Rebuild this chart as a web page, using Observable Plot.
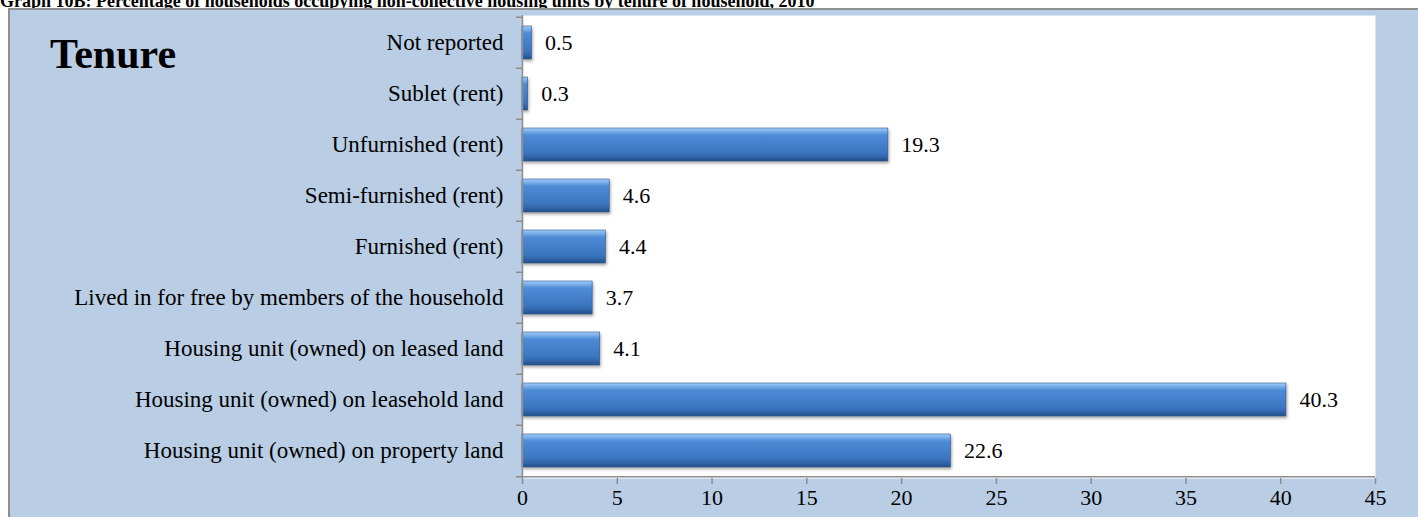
<!DOCTYPE html>
<html><head><meta charset="utf-8">
<script src="https://cdn.jsdelivr.net/npm/d3@7"></script>
<script src="https://cdn.jsdelivr.net/npm/@observablehq/plot@0.6"></script>
<style>
body{margin:0;background:#fff;width:1418px;height:517px;overflow:hidden;position:relative;font-family:"Liberation Serif","Times New Roman",serif;}
#title{position:absolute;left:0;top:-8px;font-weight:bold;font-size:18px;line-height:18px;white-space:nowrap;color:#000;}
#frame{position:absolute;left:8px;top:8px;width:1410px;height:509px;border-left:2px solid #8e8e8e;border-top:2px solid #8e8e8e;background:#B9CDE4;box-sizing:border-box;overflow:hidden;}
#tenure{position:absolute;left:50px;top:33px;font-weight:bold;font-size:42px;line-height:42px;color:#000;}
#frame svg, #frame svg text{font-family:"Liberation Serif","Times New Roman",serif !important;}
</style>
</head><body>
<div id="title">Graph 10B: Percentage of households occupying non-collective housing units by tenure of household, 2010</div>
<div id="frame"></div>
<div id="tenure">Tenure</div>
<script>
const categories = ["Not reported","Sublet (rent)","Unfurnished (rent)","Semi-furnished (rent)","Furnished (rent)","Lived in for free by members of the household","Housing unit (owned) on leased land","Housing unit (owned) on leasehold land","Housing unit (owned) on property land"];
const values = [0.5, 0.3, 19.3, 4.6, 4.4, 3.7, 4.1, 40.3, 22.6];
const xTicks = [0, 5, 10, 15, 20, 25, 30, 35, 40, 45];

const data = categories.map((c, i) => ({cat: c, value: values[i]}));
const W = 1408, H = 507, mT = 5, mB = 39, mL = 512, mR = 43;
const step = (H - mT - mB) / categories.length;
const gray = "#8c8c8c";
const fmt = d3.format(".1f");

const chart = Plot.plot({
  width: W, height: H,
  marginLeft: mL, marginRight: mR, marginTop: mT, marginBottom: mB,
  style: "background: transparent; font-family: 'Liberation Serif', 'Times New Roman', serif; font-size: 22px; color: #000;",
  x: {domain: [0, 45]},
  y: {domain: categories, paddingInner: 0.36, paddingOuter: 0.18},
  marks: [
    Plot.frame({fill: "white", stroke: "none"}),
    Plot.barX(data, {x: "value", y: "cat", fill: "#3E7ECB", stroke: "#2C5A93", strokeWidth: 0.6}),
    Plot.ruleX([0], {stroke: gray, strokeWidth: 1.5}),
    Plot.ruleY(categories, {y: d => d, x1: 0, x2: 0, insetLeft: -6, dy: -step / 2, stroke: gray, strokeWidth: 1.5}),
    Plot.ruleY([categories[categories.length - 1]], {y: d => d, x1: 0, x2: 45, insetLeft: -6, dy: step / 2, stroke: gray, strokeWidth: 1.5}),
    Plot.text(data, {x: "value", y: "cat", text: d => fmt(d.value), textAnchor: "start", dx: 13, fontSize: 22, fill: "#000"}),
    Plot.axisY({tickSize: 0, tickPadding: 19, fontSize: 23, label: null}),
    Plot.axisX({ticks: xTicks, tickSize: 6, tickPadding: 5, stroke: gray, strokeWidth: 1.5, fontSize: 22, label: null, tickFormat: d3.format("d")})
  ]
});

const svg = d3.select(chart);
const defs = svg.insert("defs", ":first-child");
const g = defs.append("linearGradient").attr("id", "barGrad").attr("x1", 0).attr("y1", 0).attr("x2", 0).attr("y2", 1);
[["0%","#a4cbf4"],["10%","#79afea"],["22%","#4e8bd6"],["75%","#3b75c0"],["88%","#2f64a8"],["100%","#234e88"]]
  .forEach(([o, c]) => g.append("stop").attr("offset", o).attr("stop-color", c));
svg.selectAll("g[aria-label='bar'] rect").attr("fill", "url(#barGrad)");
svg.selectAll("g[aria-label='bar']").style("filter", "drop-shadow(1px 2px 1.5px rgba(0,0,0,0.35))");
document.getElementById("frame").appendChild(chart);
</script>
</body></html>
